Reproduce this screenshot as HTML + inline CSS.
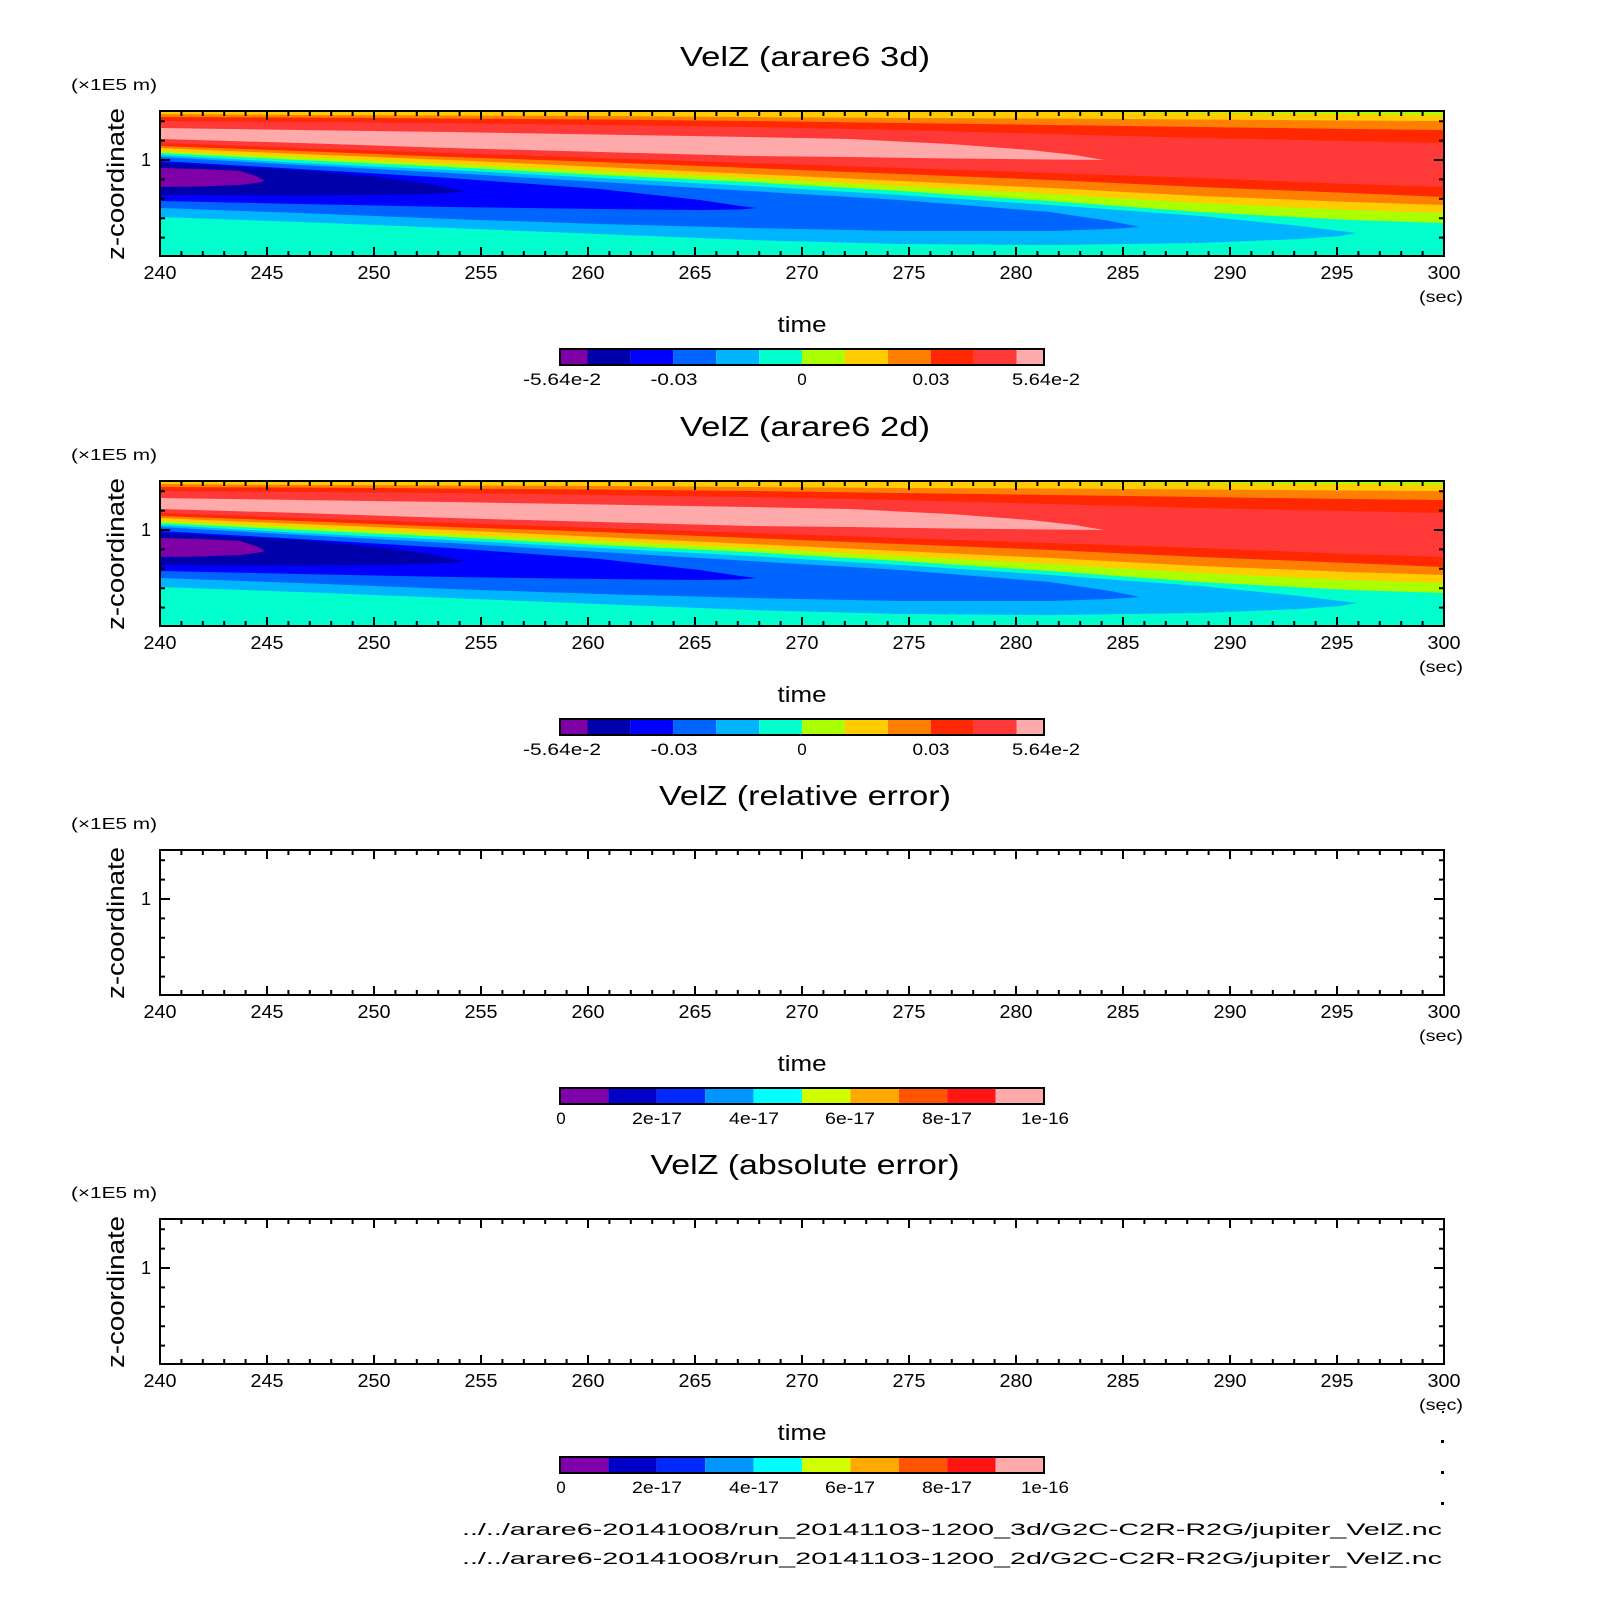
<!DOCTYPE html>
<html><head><meta charset="utf-8"><style>
html,body{margin:0;padding:0;background:#fff}
svg{display:block}
text{font-family:"Liberation Sans",sans-serif;fill:#000}
</style></head><body>
<svg xmlns="http://www.w3.org/2000/svg" xmlns:xlink="http://www.w3.org/1999/xlink" width="1604" height="1604" viewBox="0 0 1604 1604">
<defs>
<clipPath id="clip"><rect x="160" y="111" width="1284" height="145"/></clipPath>
<g id="fld">
<rect x="160" y="111" width="1284" height="145" fill="#00FFCC"/>
<path fill="#AAFF00" d="M160,111 L1444,111 L1444,223 L1350,220 L1200,212 L1050,201 L900,191 L750,182 L600,175 L450,167 L300,160 L160,153 Z"/>
<path fill="#FFCC00" d="M160,111 L950,111 L1050,112 L1200,113 L1350,114 L1444,115 L1444,213 L1350,210 L1200,203 L1050,194 L900,186 L750,178 L600,171 L450,164 L300,157 L160,151 Z"/>
<path fill="#FF8000" d="M160,114 L300,115 L450,115.5 L600,116 L750,117 L900,118 L1050,118.5 L1200,119.5 L1350,120.5 L1444,121 L1444,205 L1350,202 L1200,196 L1050,188 L900,181 L750,174 L600,167 L450,160 L300,154 L160,148 Z"/>
<path fill="#FF2800" d="M160,117 L300,117.5 L450,118.5 L600,119.5 L750,121 L900,123 L1050,125 L1200,127 L1350,129 L1444,130 L1444,197 L1350,193 L1200,187 L1050,180 L900,174 L750,168 L600,162 L450,157 L300,151 L160,146 Z"/>
<path fill="#FF3838" d="M160,121 L300,122 L450,123 L600,125 L750,127 L900,130 L1050,134 L1200,138 L1350,141 L1444,143 L1444,187 L1350,184 L1200,178 L1050,173 L900,168 L750,163 L600,158 L450,153 L300,148 L160,143 Z"/>
<path fill="#FFAAAA" d="M160,128 L300,130 L450,132 L600,134.5 L750,137 L850,139 L950,144 L1030,150 L1075,155 L1104,160 L1050,159.5 L950,158.5 L850,157 L750,156 L600,152 L450,148 L300,143 L160,139 Z"/>
<path fill="#00B4FF" d="M160,155 L300,163 L450,170 L600,178 L750,186 L900,195 L1050,205 L1200,216 L1300,226 L1340,231 L1357,233 L1340,236 L1300,239 L1200,243 L1050,245 L900,244 L750,240 L600,234 L450,228 L300,222 L160,217 Z"/>
<path fill="#0064FF" d="M160,157 L300,165 L450,173 L600,182 L750,191 L900,200 L1050,212 L1110,221 L1140,227 L1110,229 L1050,231 L900,231 L750,228 L600,224 L450,219 L300,213 L160,208 Z"/>
<path fill="#0000FF" d="M160,161 L300,169 L450,178 L600,189 L700,200 L740,206 L757,208 L740,209.5 L700,210 L600,209 L450,207 L300,204 L160,201 Z"/>
<path fill="#0000AA" d="M160,163 L300,170 L380,177 L430,184 L455,189 L465,191 L455,192.5 L430,194 L380,195 L300,195.5 L160,195 Z"/>
<path fill="#8000A8" d="M160,168 L200,169 L240,171 L256,176 L265,181 L256,183 L240,185 L200,186.5 L160,187 Z"/>
</g>
<g id="ax" stroke="#000" fill="none">
<rect x="160" y="111" width="1284" height="145" stroke-width="2"/>
<line x1="159" y1="253.5" x2="1446" y2="253.5" stroke-width="5" stroke-dasharray="2 19.4"/>
<line x1="159" y1="251.5" x2="1446" y2="251.5" stroke-width="9" stroke-dasharray="2 105"/>
<line x1="159" y1="113.5" x2="1446" y2="113.5" stroke-width="5" stroke-dasharray="2 19.4"/>
<line x1="159" y1="115.5" x2="1446" y2="115.5" stroke-width="9" stroke-dasharray="2 105"/>
<line x1="162.5" y1="120.2" x2="162.5" y2="239" stroke-width="5" stroke-dasharray="2 17.4"/>
<line x1="1441.5" y1="120.2" x2="1441.5" y2="239" stroke-width="5" stroke-dasharray="2 17.4"/>
<line x1="160" y1="160" x2="170" y2="160" stroke-width="2"/>
<line x1="1434" y1="160" x2="1444" y2="160" stroke-width="2"/>
</g>
<g id="cb1">
<rect x="560" y="349" width="27.5" height="16" fill="#8000A8"/>
<rect x="587.5" y="349" width="42.9" height="16" fill="#0000AA"/>
<rect x="630.4" y="349" width="42.9" height="16" fill="#0000FF"/>
<rect x="673.3" y="349" width="42.9" height="16" fill="#0064FF"/>
<rect x="716.2" y="349" width="42.9" height="16" fill="#00B4FF"/>
<rect x="759.1" y="349" width="42.9" height="16" fill="#00FFCC"/>
<rect x="802" y="349" width="42.9" height="16" fill="#AAFF00"/>
<rect x="844.9" y="349" width="42.9" height="16" fill="#FFCC00"/>
<rect x="887.8" y="349" width="42.9" height="16" fill="#FF8000"/>
<rect x="930.7" y="349" width="42.9" height="16" fill="#FF2800"/>
<rect x="973.6" y="349" width="42.9" height="16" fill="#FF3838"/>
<rect x="1016.5" y="349" width="27.5" height="16" fill="#FFAAAA"/>
<rect x="560" y="349" width="484" height="16" fill="none" stroke="#000" stroke-width="2"/>
</g>
<g id="cb2">
<rect x="560" y="349" width="48.4" height="16" fill="#8000AA"/>
<rect x="608.4" y="349" width="48.4" height="16" fill="#0000C8"/>
<rect x="656.8" y="349" width="48.4" height="16" fill="#0028FF"/>
<rect x="705.2" y="349" width="48.4" height="16" fill="#0096FF"/>
<rect x="753.6" y="349" width="48.4" height="16" fill="#00FFFF"/>
<rect x="802" y="349" width="48.4" height="16" fill="#D2FF00"/>
<rect x="850.4" y="349" width="48.4" height="16" fill="#FFAA00"/>
<rect x="898.8" y="349" width="48.4" height="16" fill="#FF5500"/>
<rect x="947.2" y="349" width="48.4" height="16" fill="#FF1414"/>
<rect x="995.6" y="349" width="48.4" height="16" fill="#FFAAAA"/>
<rect x="560" y="349" width="484" height="16" fill="none" stroke="#000" stroke-width="2"/>
</g>
</defs>

<rect width="1604" height="1604" fill="#fff"/>

<!-- Panel 1 -->
<g clip-path="url(#clip)"><use xlink:href="#fld"/></g>
<use xlink:href="#ax"/>
<use xlink:href="#cb1"/>
<!-- Panel 2 -->
<g transform="translate(0,370)">
<g clip-path="url(#clip)"><use xlink:href="#fld"/></g>
<use xlink:href="#ax"/>
<use xlink:href="#cb1"/>
</g>
<!-- Panel 3 -->
<g transform="translate(0,739)">
<use xlink:href="#ax"/>
<use xlink:href="#cb2"/>
</g>
<!-- Panel 4 -->
<g transform="translate(0,1108)">
<use xlink:href="#ax"/>
<use xlink:href="#cb2"/>
</g>

<!-- Titles -->
<text x="805" y="66" font-size="28" text-anchor="middle" textLength="250" lengthAdjust="spacingAndGlyphs">VelZ (arare6 3d)</text>
<text x="805" y="436" font-size="28" text-anchor="middle" textLength="250" lengthAdjust="spacingAndGlyphs">VelZ (arare6 2d)</text>
<text x="805" y="805" font-size="28" text-anchor="middle" textLength="292" lengthAdjust="spacingAndGlyphs">VelZ (relative error)</text>
<text x="805" y="1174" font-size="28" text-anchor="middle" textLength="309" lengthAdjust="spacingAndGlyphs">VelZ (absolute error)</text>

<!-- Panel 1 labels -->
<g>
<text x="71" y="90" font-size="16" textLength="86" lengthAdjust="spacingAndGlyphs">(×1E5 m)</text>
<text transform="translate(124,184) rotate(-90)" font-size="24" text-anchor="middle" textLength="152" lengthAdjust="spacingAndGlyphs">z-coordinate</text>
<text x="151" y="166" font-size="18" text-anchor="end">1</text>
<g font-size="18" text-anchor="middle">
<text x="160" y="279" textLength="33" lengthAdjust="spacingAndGlyphs">240</text>
<text x="267" y="279" textLength="33" lengthAdjust="spacingAndGlyphs">245</text>
<text x="374" y="279" textLength="33" lengthAdjust="spacingAndGlyphs">250</text>
<text x="481" y="279" textLength="33" lengthAdjust="spacingAndGlyphs">255</text>
<text x="588" y="279" textLength="33" lengthAdjust="spacingAndGlyphs">260</text>
<text x="695" y="279" textLength="33" lengthAdjust="spacingAndGlyphs">265</text>
<text x="802" y="279" textLength="33" lengthAdjust="spacingAndGlyphs">270</text>
<text x="909" y="279" textLength="33" lengthAdjust="spacingAndGlyphs">275</text>
<text x="1016" y="279" textLength="33" lengthAdjust="spacingAndGlyphs">280</text>
<text x="1123" y="279" textLength="33" lengthAdjust="spacingAndGlyphs">285</text>
<text x="1230" y="279" textLength="33" lengthAdjust="spacingAndGlyphs">290</text>
<text x="1337" y="279" textLength="33" lengthAdjust="spacingAndGlyphs">295</text>
<text x="1444" y="279" textLength="33" lengthAdjust="spacingAndGlyphs">300</text>
</g>
<text x="1441" y="302" font-size="16" text-anchor="middle" textLength="44" lengthAdjust="spacingAndGlyphs">(sec)</text>
<text x="802" y="332" font-size="22" text-anchor="middle" textLength="49" lengthAdjust="spacingAndGlyphs">time</text>
<g font-size="17" text-anchor="middle">
<text x="562" y="385" textLength="78" lengthAdjust="spacingAndGlyphs">-5.64e-2</text>
<text x="674" y="385" textLength="47" lengthAdjust="spacingAndGlyphs">-0.03</text>
<text x="802" y="385">0</text>
<text x="931" y="385" textLength="37" lengthAdjust="spacingAndGlyphs">0.03</text>
<text x="1046" y="385" textLength="68" lengthAdjust="spacingAndGlyphs">5.64e-2</text>
</g>
</g>

<!-- Panel 2 labels -->
<g transform="translate(0,370)">
<text x="71" y="90" font-size="16" textLength="86" lengthAdjust="spacingAndGlyphs">(×1E5 m)</text>
<text transform="translate(124,184) rotate(-90)" font-size="24" text-anchor="middle" textLength="152" lengthAdjust="spacingAndGlyphs">z-coordinate</text>
<text x="151" y="166" font-size="18" text-anchor="end">1</text>
<g font-size="18" text-anchor="middle">
<text x="160" y="279" textLength="33" lengthAdjust="spacingAndGlyphs">240</text>
<text x="267" y="279" textLength="33" lengthAdjust="spacingAndGlyphs">245</text>
<text x="374" y="279" textLength="33" lengthAdjust="spacingAndGlyphs">250</text>
<text x="481" y="279" textLength="33" lengthAdjust="spacingAndGlyphs">255</text>
<text x="588" y="279" textLength="33" lengthAdjust="spacingAndGlyphs">260</text>
<text x="695" y="279" textLength="33" lengthAdjust="spacingAndGlyphs">265</text>
<text x="802" y="279" textLength="33" lengthAdjust="spacingAndGlyphs">270</text>
<text x="909" y="279" textLength="33" lengthAdjust="spacingAndGlyphs">275</text>
<text x="1016" y="279" textLength="33" lengthAdjust="spacingAndGlyphs">280</text>
<text x="1123" y="279" textLength="33" lengthAdjust="spacingAndGlyphs">285</text>
<text x="1230" y="279" textLength="33" lengthAdjust="spacingAndGlyphs">290</text>
<text x="1337" y="279" textLength="33" lengthAdjust="spacingAndGlyphs">295</text>
<text x="1444" y="279" textLength="33" lengthAdjust="spacingAndGlyphs">300</text>
</g>
<text x="1441" y="302" font-size="16" text-anchor="middle" textLength="44" lengthAdjust="spacingAndGlyphs">(sec)</text>
<text x="802" y="332" font-size="22" text-anchor="middle" textLength="49" lengthAdjust="spacingAndGlyphs">time</text>
<g font-size="17" text-anchor="middle">
<text x="562" y="385" textLength="78" lengthAdjust="spacingAndGlyphs">-5.64e-2</text>
<text x="674" y="385" textLength="47" lengthAdjust="spacingAndGlyphs">-0.03</text>
<text x="802" y="385">0</text>
<text x="931" y="385" textLength="37" lengthAdjust="spacingAndGlyphs">0.03</text>
<text x="1046" y="385" textLength="68" lengthAdjust="spacingAndGlyphs">5.64e-2</text>
</g>
</g>

<!-- Panel 3 labels -->
<g transform="translate(0,739)">
<text x="71" y="90" font-size="16" textLength="86" lengthAdjust="spacingAndGlyphs">(×1E5 m)</text>
<text transform="translate(124,184) rotate(-90)" font-size="24" text-anchor="middle" textLength="152" lengthAdjust="spacingAndGlyphs">z-coordinate</text>
<text x="151" y="166" font-size="18" text-anchor="end">1</text>
<g font-size="18" text-anchor="middle">
<text x="160" y="279" textLength="33" lengthAdjust="spacingAndGlyphs">240</text>
<text x="267" y="279" textLength="33" lengthAdjust="spacingAndGlyphs">245</text>
<text x="374" y="279" textLength="33" lengthAdjust="spacingAndGlyphs">250</text>
<text x="481" y="279" textLength="33" lengthAdjust="spacingAndGlyphs">255</text>
<text x="588" y="279" textLength="33" lengthAdjust="spacingAndGlyphs">260</text>
<text x="695" y="279" textLength="33" lengthAdjust="spacingAndGlyphs">265</text>
<text x="802" y="279" textLength="33" lengthAdjust="spacingAndGlyphs">270</text>
<text x="909" y="279" textLength="33" lengthAdjust="spacingAndGlyphs">275</text>
<text x="1016" y="279" textLength="33" lengthAdjust="spacingAndGlyphs">280</text>
<text x="1123" y="279" textLength="33" lengthAdjust="spacingAndGlyphs">285</text>
<text x="1230" y="279" textLength="33" lengthAdjust="spacingAndGlyphs">290</text>
<text x="1337" y="279" textLength="33" lengthAdjust="spacingAndGlyphs">295</text>
<text x="1444" y="279" textLength="33" lengthAdjust="spacingAndGlyphs">300</text>
</g>
<text x="1441" y="302" font-size="16" text-anchor="middle" textLength="44" lengthAdjust="spacingAndGlyphs">(sec)</text>
<text x="802" y="332" font-size="22" text-anchor="middle" textLength="49" lengthAdjust="spacingAndGlyphs">time</text>
<g font-size="17" text-anchor="middle">
<text x="561" y="385">0</text>
<text x="657" y="385" textLength="50" lengthAdjust="spacingAndGlyphs">2e-17</text>
<text x="754" y="385" textLength="50" lengthAdjust="spacingAndGlyphs">4e-17</text>
<text x="850" y="385" textLength="50" lengthAdjust="spacingAndGlyphs">6e-17</text>
<text x="947" y="385" textLength="50" lengthAdjust="spacingAndGlyphs">8e-17</text>
<text x="1045" y="385" textLength="48" lengthAdjust="spacingAndGlyphs">1e-16</text>
</g>
</g>

<!-- Panel 4 labels -->
<g transform="translate(0,1108)">
<text x="71" y="90" font-size="16" textLength="86" lengthAdjust="spacingAndGlyphs">(×1E5 m)</text>
<text transform="translate(124,184) rotate(-90)" font-size="24" text-anchor="middle" textLength="152" lengthAdjust="spacingAndGlyphs">z-coordinate</text>
<text x="151" y="166" font-size="18" text-anchor="end">1</text>
<g font-size="18" text-anchor="middle">
<text x="160" y="279" textLength="33" lengthAdjust="spacingAndGlyphs">240</text>
<text x="267" y="279" textLength="33" lengthAdjust="spacingAndGlyphs">245</text>
<text x="374" y="279" textLength="33" lengthAdjust="spacingAndGlyphs">250</text>
<text x="481" y="279" textLength="33" lengthAdjust="spacingAndGlyphs">255</text>
<text x="588" y="279" textLength="33" lengthAdjust="spacingAndGlyphs">260</text>
<text x="695" y="279" textLength="33" lengthAdjust="spacingAndGlyphs">265</text>
<text x="802" y="279" textLength="33" lengthAdjust="spacingAndGlyphs">270</text>
<text x="909" y="279" textLength="33" lengthAdjust="spacingAndGlyphs">275</text>
<text x="1016" y="279" textLength="33" lengthAdjust="spacingAndGlyphs">280</text>
<text x="1123" y="279" textLength="33" lengthAdjust="spacingAndGlyphs">285</text>
<text x="1230" y="279" textLength="33" lengthAdjust="spacingAndGlyphs">290</text>
<text x="1337" y="279" textLength="33" lengthAdjust="spacingAndGlyphs">295</text>
<text x="1444" y="279" textLength="33" lengthAdjust="spacingAndGlyphs">300</text>
</g>
<text x="1441" y="302" font-size="16" text-anchor="middle" textLength="44" lengthAdjust="spacingAndGlyphs">(sec)</text>
<text x="802" y="332" font-size="22" text-anchor="middle" textLength="49" lengthAdjust="spacingAndGlyphs">time</text>
<g font-size="17" text-anchor="middle">
<text x="561" y="385">0</text>
<text x="657" y="385" textLength="50" lengthAdjust="spacingAndGlyphs">2e-17</text>
<text x="754" y="385" textLength="50" lengthAdjust="spacingAndGlyphs">4e-17</text>
<text x="850" y="385" textLength="50" lengthAdjust="spacingAndGlyphs">6e-17</text>
<text x="947" y="385" textLength="50" lengthAdjust="spacingAndGlyphs">8e-17</text>
<text x="1045" y="385" textLength="48" lengthAdjust="spacingAndGlyphs">1e-16</text>
</g>
</g>

<!-- small dots -->
<rect x="1442" y="1411" width="2" height="2" fill="#000"/>
<rect x="1441" y="1440" width="3" height="3" fill="#000"/>
<rect x="1441" y="1471" width="3" height="3" fill="#000"/>
<rect x="1441" y="1502" width="3" height="3" fill="#000"/>

<!-- footer -->
<text x="462" y="1535" font-size="17" textLength="980" lengthAdjust="spacingAndGlyphs">../../arare6-20141008/run_20141103-1200_3d/G2C-C2R-R2G/jupiter_VelZ.nc</text>
<text x="462" y="1564" font-size="17" textLength="980" lengthAdjust="spacingAndGlyphs">../../arare6-20141008/run_20141103-1200_2d/G2C-C2R-R2G/jupiter_VelZ.nc</text>
</svg>
</body></html>
